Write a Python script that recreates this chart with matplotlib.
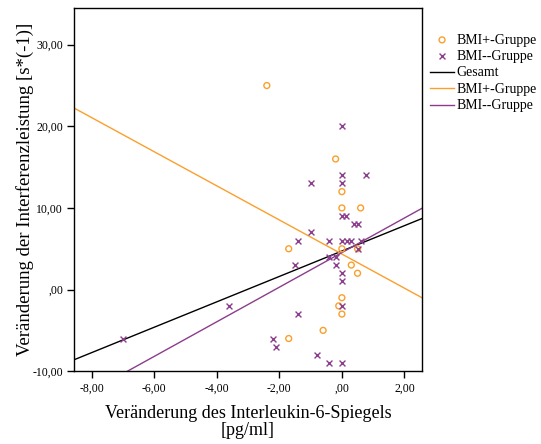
import numpy as np
import matplotlib
matplotlib.use("Agg")
import matplotlib.pyplot as plt
from matplotlib.ticker import FuncFormatter

plt.rcParams['font.family'] = ['Liberation Serif', 'DejaVu Serif']

# BMI+ Gruppe (orange circles)
plus_x = [-2.4, -0.2, 0.0, 0.0, 0.6, -1.7, 0.0, 0.5, 0.3, 0.5, 0.0, -0.1, 0.0, -0.6, -1.7]
plus_y = [25, 16, 12, 10, 10, 5, 5, 5, 3, 2, -1, -2, -3, -5, -6]

# BMI- Gruppe (purple crosses)
minus_x = [0.0, 0.0, 0.78, -1.0, 0.0, 0.0, 0.12, 0.4, 0.52, -1.0, -1.4, -0.4, 0.0, 0.15,
           0.3, 0.6, 0.5, -0.4, -0.2, -1.5, -0.2, 0.0, 0.0, 0.0, -1.4, -2.2, -2.1, -0.8,
           -0.4, 0.0, -7.0, -3.6]
minus_y = [20, 14, 14, 13, 13, 9, 9, 8, 8, 7, 6, 6, 6, 6,
           6, 6, 5, 4, 4, 3, 3, 2, 1, -2, -3, -6, -7, -8,
           -9, -9, -6, -2]

# regression lines: (slope, intercept)
fit_all = (1.556, 4.72)
fit_plus = (-2.09, 4.35)
fit_minus = (2.12, 4.53)

orange = '#fb9f2c'
purple = '#8c3c8c'

fig = plt.figure(figsize=(5.41, 4.44), dpi=100)
ax = fig.add_axes([0.137, 0.164, 0.643, 0.818])

ax.scatter(plus_x, plus_y, marker='o', s=18, facecolors='none', edgecolors=orange,
           linewidths=1.0, label='BMI+-Gruppe', zorder=3)
ax.scatter(minus_x, minus_y, marker='x', s=18, color=purple, linewidths=1.0,
           label='BMI--Gruppe', zorder=3)

xlim = (-8.56, 2.56)
xs = np.array(xlim)

ax.plot(xs, np.polyval(fit_all, xs), color='black', lw=1.0, label='Gesamt')
ax.plot(xs, np.polyval(fit_plus, xs), color=orange, lw=1.0, label='BMI+-Gruppe')
ax.plot(xs, np.polyval(fit_minus, xs), color=purple, lw=1.0, label='BMI--Gruppe')

ax.set_xlim(*xlim)
ax.set_ylim(-10, 34.5)
ax.set_xticks([-8, -6, -4, -2, 0, 2])
ax.set_yticks([-10, 0, 10, 20, 30])


def de_fmt(v, pos):
    s = f"{v:.2f}".replace('.', ',')
    if s.startswith('0,'):
        s = s[1:]
    if s == '-0,00':
        s = ',00'
    return s


ax.xaxis.set_major_formatter(FuncFormatter(de_fmt))
ax.yaxis.set_major_formatter(FuncFormatter(de_fmt))
ax.tick_params(direction='out', length=5, width=1, labelsize=8.5, pad=3)
for sp in ax.spines.values():
    sp.set_linewidth(1.0)

ax.set_xlabel('Veränderung des Interleukin-6-Spiegels\n[pg/ml]', fontsize=13,
              linespacing=1.0, labelpad=8)
ax.set_ylabel('Veränderung der Interferenzleistung [s*(-1)]', fontsize=13.5, labelpad=-1)

fig.legend(loc='upper left', bbox_to_anchor=(0.785, 0.937), frameon=False, fontsize=10,
           handlelength=1.7, handletextpad=0.2, labelspacing=0.25, borderaxespad=0)

fig.savefig('out.png', dpi=100)
